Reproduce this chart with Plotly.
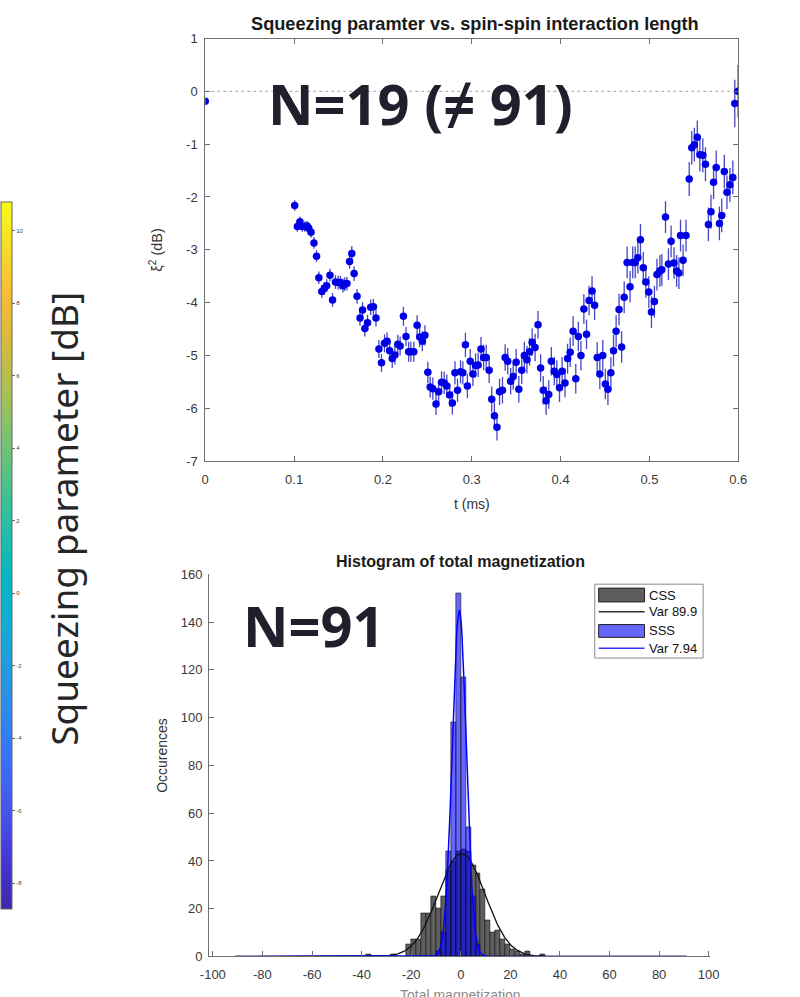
import numpy as np
import plotly.graph_objects as go

W, H = 800, 997


def px(x):
    return x / W


def py(y):
    return 1 - y / H


# ---------------- squeezing parameter vs. interaction length ----------------
t_ms = [
    0.0,
    0.1007, 0.1037, 0.1066, 0.1092, 0.1121, 0.1147, 0.1165, 0.1191, 0.1224, 0.1253,
    0.1279, 0.1312, 0.1341, 0.1367, 0.1404, 0.1433, 0.1466, 0.1496, 0.1521, 0.1550,
    0.1570, 0.1595, 0.1625, 0.1650, 0.1676, 0.1709, 0.1742, 0.1771, 0.1797, 0.1827,
    0.1863, 0.1893, 0.1922, 0.1955, 0.1984, 0.2018, 0.2047, 0.2076, 0.2105, 0.2135,
    0.2168, 0.2194, 0.2231, 0.2260, 0.2290, 0.2315, 0.2348, 0.2385, 0.2414, 0.2444,
    0.2473, 0.2506, 0.2532, 0.2562, 0.2598, 0.2627, 0.2660, 0.2690, 0.2719, 0.2752,
    0.2782, 0.2811, 0.2840, 0.2874, 0.2900, 0.2929, 0.2951, 0.2983, 0.3013, 0.3043,
    0.3072, 0.3104, 0.3134, 0.3163, 0.3196, 0.3225, 0.3255, 0.3284, 0.3313, 0.3346,
    0.3376, 0.3405, 0.3438, 0.3467, 0.3500, 0.3530, 0.3563, 0.3592, 0.3621, 0.3651,
    0.3680, 0.3713, 0.3746, 0.3775, 0.3805, 0.3837, 0.3867, 0.3896, 0.3929, 0.3958,
    0.3988, 0.4017, 0.4050, 0.4079, 0.4108, 0.4141, 0.4171, 0.4200, 0.4229, 0.4262,
    0.4292, 0.4321, 0.4354, 0.4383, 0.4412, 0.4442, 0.4475, 0.4504, 0.4533, 0.4566,
    0.4596, 0.4625, 0.4658, 0.4687, 0.4716, 0.4749, 0.4782, 0.4812, 0.4840, 0.4870,
    0.4899, 0.4931, 0.4960, 0.4993, 0.5023, 0.5056, 0.5085, 0.5118, 0.5140, 0.5181,
    0.5214, 0.5244, 0.5277, 0.5306, 0.5332, 0.5350, 0.5379, 0.5412, 0.5448, 0.5477,
    0.5506, 0.5539, 0.5568, 0.5601, 0.5631, 0.5664, 0.5693, 0.5722, 0.5752, 0.5788,
    0.5814, 0.5843, 0.5873, 0.5906, 0.5939, 0.5961, 0.5998,
]
xi2_db = [
    -0.19,
    -2.16, -2.56, -2.47, -2.56, -2.56, -2.55, -2.59, -2.67, -2.87, -3.12,
    -3.53, -3.79, -3.73, -3.68, -3.48, -3.95, -3.61, -3.62, -3.62, -3.68,
    -3.65, -3.64, -3.22, -3.07, -3.45, -3.88, -4.29, -4.14, -4.49, -4.38,
    -4.09, -4.08, -4.29, -4.88, -5.14, -4.77, -4.73, -4.91, -5.06, -4.99,
    -4.79, -4.82, -4.26, -4.64, -4.93, -4.93, -4.93, -4.43, -4.65, -4.73,
    -4.62, -5.32, -5.60, -5.63, -5.92, -5.69, -5.51, -5.52, -5.58, -5.75,
    -5.90, -5.33, -5.66, -5.31, -5.33, -4.80, -5.58, -5.11, -5.35, -5.19,
    -5.18, -4.88, -5.04, -5.04, -5.28, -5.83, -6.14, -6.36, -5.69, -5.66,
    -5.04, -5.11, -5.49, -5.40, -5.13, -5.64, -5.28, -5.00, -5.08, -4.93,
    -4.75, -4.85, -4.42, -5.24, -5.66, -5.86, -5.74, -5.11, -5.30, -5.36,
    -5.61, -5.30, -5.52, -5.06, -4.94, -4.54, -5.44, -4.64, -5.00, -4.12,
    -4.60, -3.96, -3.78, -4.05, -5.04, -5.35, -5.00, -5.54, -5.64, -5.33,
    -4.91, -4.54, -4.13, -4.84, -3.90, -3.24, -3.70, -3.24, -3.24, -3.15,
    -2.81, -3.34, -3.61, -3.80, -4.18, -3.98, -3.47, -3.40, -3.38, -2.38,
    -3.27, -2.84, -3.25, -3.40, -3.44, -2.73, -3.20, -2.73, -1.66, -1.07,
    -1.01, -0.87, -1.20, -1.21, -1.38, -2.52, -2.28, -1.72, -1.44, -2.50,
    -2.35, -1.52, -1.91, -1.77, -1.63, -0.23, 0.00,
]
xi2_err = [
    0.0,
    0.10, 0.10, 0.10, 0.10, 0.10, 0.10, 0.10, 0.10, 0.11, 0.11,
    0.12, 0.12, 0.12, 0.12, 0.12, 0.13, 0.13, 0.13, 0.13, 0.13,
    0.13, 0.13, 0.14, 0.14, 0.14, 0.14, 0.15, 0.15, 0.15, 0.15,
    0.15, 0.15, 0.16, 0.17, 0.17, 0.17, 0.17, 0.18, 0.18, 0.18,
    0.18, 0.18, 0.18, 0.18, 0.19, 0.19, 0.19, 0.19, 0.19, 0.19,
    0.19, 0.20, 0.20, 0.21, 0.21, 0.21, 0.21, 0.21, 0.22, 0.22,
    0.22, 0.22, 0.22, 0.22, 0.22, 0.23, 0.23, 0.23, 0.23, 0.23,
    0.23, 0.23, 0.24, 0.24, 0.24, 0.24, 0.25, 0.25, 0.25, 0.25,
    0.25, 0.25, 0.25, 0.25, 0.25, 0.25, 0.26, 0.26, 0.26, 0.26,
    0.26, 0.26, 0.26, 0.26, 0.27, 0.27, 0.27, 0.27, 0.27, 0.27,
    0.27, 0.27, 0.27, 0.28, 0.28, 0.28, 0.28, 0.28, 0.28, 0.28,
    0.28, 0.28, 0.28, 0.28, 0.29, 0.29, 0.29, 0.29, 0.30, 0.30,
    0.30, 0.30, 0.30, 0.30, 0.30, 0.30, 0.30, 0.30, 0.30, 0.30,
    0.30, 0.30, 0.30, 0.30, 0.30, 0.30, 0.30, 0.30, 0.30, 0.30,
    0.30, 0.30, 0.30, 0.30, 0.30, 0.30, 0.30, 0.30, 0.32, 0.32,
    0.32, 0.32, 0.32, 0.32, 0.32, 0.32, 0.32, 0.32, 0.32, 0.32,
    0.32, 0.32, 0.32, 0.32, 0.32, 0.45, 0.50,
]

# ---------------- histogram of total magnetization ----------------
css_centers = [-37, -27, -21, -19, -17, -15, -13, -11, -9, -7, -5, -3, -1, 1,
               3, 5, 7, 9, 11, 13, 15, 17, 19, 21, 23, 25, 27, 33]
css_counts = [1, 1, 5, 7, 7, 18, 18, 25, 20, 25, 36, 40, 44, 45,
              44, 38, 35, 28, 15, 10, 11, 7, 5, 3, 2, 1, 2, 1]
sss_centers = [-9, -7, -5, -3, -1, 1, 3, 5, 7]
sss_counts = [2, 10, 44, 98, 152, 117, 54, 25, 5]
var_css = 89.9
var_sss = 7.94
mean_css = 0.3
mean_sss = -0.6
n_samples = 512
bin_width = 2
m_span = 91

# parula-like colour map used by the colour bar
parula = [
    [0.000, "#3e26a8"], [0.067, "#4535d5"], [0.133, "#4652ee"], [0.200, "#3b6cf9"],
    [0.267, "#2d87f0"], [0.333, "#2499e2"], [0.400, "#13abd6"], [0.467, "#05b7c4"],
    [0.533, "#21bea9"], [0.600, "#4ac28d"], [0.667, "#7ac36d"], [0.733, "#aac052"],
    [0.800, "#d5ba3d"], [0.867, "#f8bb36"], [0.933, "#f7dc29"], [1.000, "#f9fb14"],
]
cbar_min, cbar_max = -8.71, 10.79
cbar_ticks = [-8, -6, -4, -2, 0, 2, 4, 6, 8, 10]

AX = "#6f6f6f"
TXT = "#333333"
SANS = "Liberation Sans, Arial, sans-serif"
TICKF = dict(family=SANS, size=13, color="#3a3a3a")

fig = go.Figure()

# squeezing data with error bars
fig.add_trace(go.Scatter(
    x=t_ms, y=xi2_db, mode="markers",
    marker=dict(size=7.5, color="#0000e6", line=dict(width=0)),
    error_y=dict(type="data", array=xi2_err, color="#4646c8", thickness=1.3, width=0),
    xaxis="x", yaxis="y", showlegend=False, hoverinfo="skip",
))

# Gaussian fits from the stated variances
m = np.linspace(-m_span, m_span, 700)


def gauss(mu, var):
    return n_samples * bin_width * np.exp(-(m - mu) ** 2 / (2 * var)) / np.sqrt(2 * np.pi * var)


fig.add_trace(go.Bar(
    x=css_centers, y=css_counts, width=bin_width,
    marker=dict(color="#5e5e5e", line=dict(color="#111", width=0.6)),
    xaxis="x2", yaxis="y2", showlegend=False, hoverinfo="skip",
))
fig.add_trace(go.Scatter(
    x=m, y=gauss(mean_css, var_css), mode="lines", line=dict(color="#111111", width=1.3),
    xaxis="x2", yaxis="y2", showlegend=False, hoverinfo="skip",
))
fig.add_trace(go.Bar(
    x=sss_centers, y=sss_counts, width=bin_width,
    marker=dict(color="rgba(0,0,255,0.6)", line=dict(color="#111", width=0.6)),
    xaxis="x2", yaxis="y2", showlegend=False, hoverinfo="skip",
))
fig.add_trace(go.Scatter(
    x=m, y=gauss(mean_sss, var_sss), mode="lines", line=dict(color="#0000ff", width=1.5),
    xaxis="x2", yaxis="y2", showlegend=False, hoverinfo="skip",
))

# colour bar of the squeezing parameter
fig.add_trace(go.Scatter(
    x=[None], y=[None], mode="markers", xaxis="x", yaxis="y", showlegend=False,
    marker=dict(
        color=[0], colorscale=parula, cmin=cbar_min, cmax=cbar_max, showscale=True,
        colorbar=dict(
            x=-8 / W, xanchor="left", xpad=0, ypad=0, y=py(557), yanchor="middle",
            len=718 / H, lenmode="fraction", thickness=11, thicknessmode="pixels",
            outlinewidth=1, outlinecolor="#666", ticks="outside", ticklen=3, tickcolor="#666",
            tickvals=cbar_ticks, ticktext=[str(v) for v in cbar_ticks],
            tickfont=dict(family=SANS, size=6, color="#444"),
        ),
    ),
))

x_ticks = [0, 0.1, 0.2, 0.3, 0.4, 0.5, 0.6]
y_ticks = [-7, -6, -5, -4, -3, -2, -1, 0, 1]
hx_ticks = [-100, -80, -60, -40, -20, 0, 20, 40, 60, 80, 100]
hy_ticks = [0, 20, 40, 60, 80, 100, 120, 140, 160]

axis_common = dict(showline=True, linecolor=AX, linewidth=1, ticks="inside", ticklen=5,
                   tickcolor=AX, showgrid=False, zeroline=False, tickfont=TICKF)

fig.update_layout(
    width=W, height=H, margin=dict(l=0, r=0, t=0, b=0),
    paper_bgcolor="white", plot_bgcolor="white", barmode="overlay", bargap=0,
    xaxis=dict(
        domain=[px(201), px(747)], range=[0, 0.6], anchor="y", mirror="ticks",
        tickvals=x_ticks, ticktext=[("%g" % v) for v in x_ticks], ticklabelstandoff=6,
        **axis_common,
    ),
    yaxis=dict(
        domain=[py(461), py(32)], range=[-7, 1], anchor="x", mirror="ticks",
        tickvals=y_ticks, ticktext=[str(v) for v in y_ticks], ticklabelstandoff=4,
        **axis_common,
    ),
    xaxis2=dict(
        domain=[px(205), px(718)], range=[-101.5, 100.5], anchor="y2", mirror=False,
        tickvals=hx_ticks, ticktext=[str(v) for v in hx_ticks], ticklabelstandoff=6,
        **axis_common,
    ),
    yaxis2=dict(
        domain=[py(964), py(576)], range=[0, 160], anchor="x2", mirror=False,
        tickvals=hy_ticks, ticktext=[str(v) for v in hy_ticks], ticklabelstandoff=3,
        **axis_common,
    ),
)

# dotted reference line at 0 dB
fig.add_shape(type="line", xref="x domain", yref="y", x0=0, x1=1, y0=0, y1=0,
              line=dict(color="#a8a8a8", width=1, dash="dot"), layer="below")

# legend of the histogram panel
LEG_FONT = dict(family=SANS, size=13, color="#111")
fig.add_shape(type="rect", xref="paper", yref="paper", x0=px(600), x1=px(711), y0=py(661), y1=py(586),
              line=dict(color="#8a8a8a", width=1), fillcolor="white")
fig.add_shape(type="rect", xref="paper", yref="paper", x0=px(604), x1=px(651), y0=py(604), y1=py(590),
              line=dict(color="#222", width=1), fillcolor="#5e5e5e")
fig.add_shape(type="line", xref="paper", yref="paper", x0=px(604), x1=px(651), y0=py(614), y1=py(614),
              line=dict(color="#333", width=1.5))
fig.add_shape(type="rect", xref="paper", yref="paper", x0=px(604), x1=px(651), y0=py(640), y1=py(627),
              line=dict(color="#222", width=1), fillcolor="#6666ff")
fig.add_shape(type="line", xref="paper", yref="paper", x0=px(604), x1=px(651), y0=py(651), y1=py(651),
              line=dict(color="#3333ff", width=1.5))
for label, yy in [("CSS", 597), ("Var %.1f" % var_css, 614), ("SSS", 633), ("Var %.2f" % var_sss, 651)]:
    fig.add_annotation(text=label, x=px(654), y=py(yy), xref="paper", yref="paper",
                       xanchor="left", yanchor="middle", showarrow=False, font=LEG_FONT)

ann = dict(xref="paper", yref="paper", showarrow=False)
fig.add_annotation(text="<b>Squeezing paramter vs. spin-spin interaction length</b>",
                   x=px(477), y=py(17), xanchor="center", yanchor="middle",
                   font=dict(family=SANS, size=18.2, color="#1a1a1a"), **ann)
fig.add_annotation(text="t (ms)", x=px(474), y=py(505), xanchor="center", yanchor="middle",
                   font=dict(family=SANS, size=14, color=TXT), **ann)
fig.add_annotation(text="ξ<sup>2</sup> (dB)", x=px(151), y=py(246), xanchor="center", yanchor="middle",
                   textangle=-90, font=dict(family=SANS, size=14.5, color=TXT), **ann)
fig.add_annotation(text="<b>Histogram of total magnetization</b>",
                   x=px(462), y=py(563), xanchor="center", yanchor="middle",
                   font=dict(family=SANS, size=16, color="#1a1a1a"), **ann)
fig.add_annotation(text="Occurences", x=px(156), y=py(760), xanchor="center", yanchor="middle",
                   textangle=-90, font=dict(family=SANS, size=14, color=TXT), **ann)
fig.add_annotation(text="Total magnetization", x=px(462), y=py(993), xanchor="center", yanchor="top",
                   font=dict(family=SANS, size=14, color="#8a8a8a"), **ann)

# overlay labels
fig.add_annotation(text="Squeezing parameter [dB]", x=px(56), y=py(520), xanchor="center", yanchor="middle",
                   textangle=-90, font=dict(family="Noto Sans, Open Sans, sans-serif", size=37, color="#262626"),
                   **ann)
BIG = dict(family="Noto Sans, DejaVu Sans, sans-serif", size=56, color="#20202c")
fig.add_annotation(text="<b>N=19 (≠ 91)</b>", x=px(263), y=py(97), xanchor="left", yanchor="middle",
                   font=BIG, **ann)
fig.add_annotation(text="<b>N=91</b>", x=px(238), y=py(627), xanchor="left", yanchor="middle",
                   font=BIG, **ann)

fig.write_html("out.html")
